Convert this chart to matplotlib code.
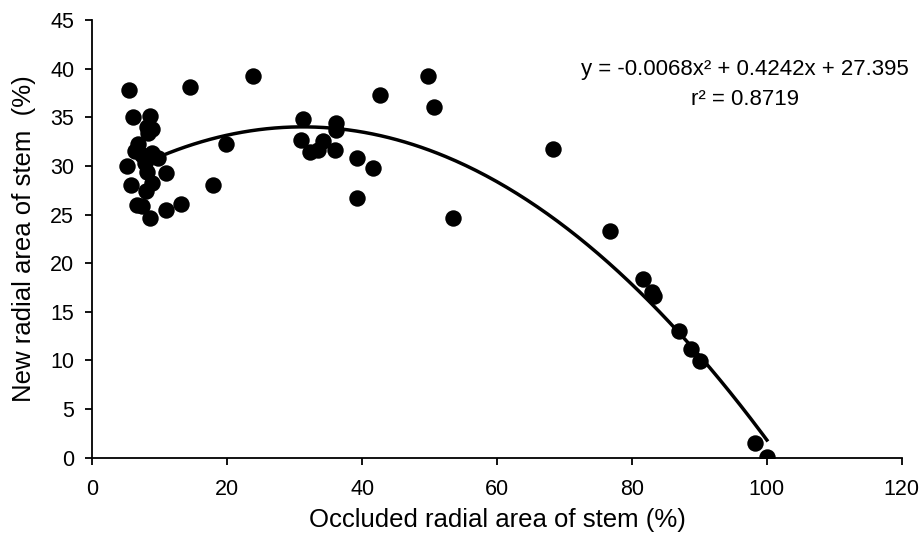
import numpy as np
import matplotlib
matplotlib.use("Agg")
import matplotlib.pyplot as plt

plt.rcParams['font.family'] = ['Liberation Sans', 'DejaVu Sans']

occluded = [5.5, 6.1, 8.6, 8.1, 8.8, 8.3, 6.8, 6.3, 7.3, 8.8, 9.8, 5.1, 7.8, 8.1, 11.0,
            5.8, 8.8, 8.0, 6.6, 7.3, 8.6, 10.9, 13.1, 14.5, 19.8, 17.9, 23.8,
            31.3, 30.9, 32.2, 33.5, 34.2, 36.2, 36.2, 36.0, 39.2, 41.6, 39.3, 42.7,
            49.8, 50.7, 53.5, 68.3, 76.7, 81.6, 82.9, 83.3, 86.9, 88.8, 90.1, 98.2, 100.0]
new_area = [37.8, 35.0, 35.1, 34.0, 33.8, 33.4, 32.2, 31.5, 31.1, 31.3, 30.8, 30.0, 30.3, 29.4, 29.3,
            28.0, 28.2, 27.4, 26.0, 25.9, 24.6, 25.5, 26.1, 38.1, 32.2, 28.0, 39.2,
            34.8, 32.7, 31.4, 31.6, 32.6, 34.4, 33.7, 31.6, 30.8, 29.8, 26.7, 37.3,
            39.2, 36.1, 24.6, 31.7, 23.3, 18.4, 17.0, 16.6, 13.0, 11.2, 9.9, 1.55, 0.05]

coef = [-0.0068, 0.4242, 27.395]
fit_range = [9.9, 100.0]
x_ticks = [0, 20, 40, 60, 80, 100, 120]
y_ticks = [0, 5, 10, 15, 20, 25, 30, 35, 40, 45]

fig = plt.figure(figsize=(9.22, 5.43), dpi=100)
ax = fig.add_axes([0.1001, 0.1571, 0.878, 0.8061])

ax.scatter(occluded, new_area, s=140, color='black', zorder=3, linewidths=0)
xf = np.linspace(fit_range[0], fit_range[1], 300)
yf = np.polyval(coef, xf)
ax.plot(xf, yf, color='black', lw=2.5, zorder=2)

ax.set_xlim(0, 120)
ax.set_ylim(0, 45)
ax.set_xticks(x_ticks)
ax.set_yticks(y_ticks)
ax.spines['top'].set_visible(False)
ax.spines['right'].set_visible(False)
for s in ['left', 'bottom']:
    ax.spines[s].set_linewidth(1.3)
ax.tick_params(axis='both', direction='out', length=5, width=1.3, labelsize=15.5)
ax.tick_params(axis='x', pad=10)
ax.tick_params(axis='y', pad=8)

ax.set_xlabel('Occluded radial area of stem (%)', fontsize=18.5, labelpad=6)
ax.set_ylabel('New radial area of stem  (%)', fontsize=18.5, labelpad=10)

ax.text(0.806, 0.853, 'y = -0.0068x² + 0.4242x + 27.395\nr² = 0.8719',
        transform=ax.transAxes, ha='center', va='center', fontsize=16,
        linespacing=1.55)

fig.savefig('out.png', dpi=100)
